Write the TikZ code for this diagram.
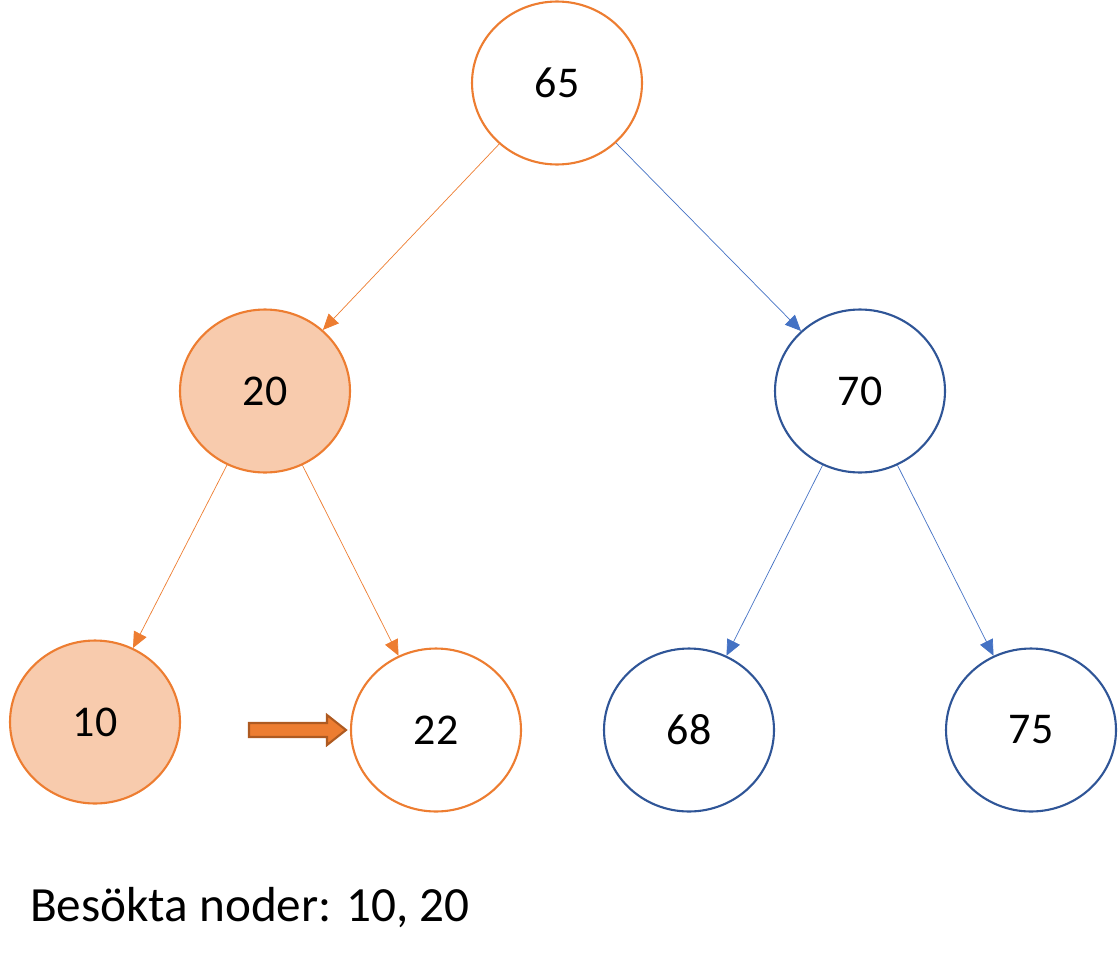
\documentclass[tikz,border=0pt]{standalone}
\usepackage{fontspec}
\setmainfont{Carlito}
\usetikzlibrary{shapes.geometric,arrows.meta}
\definecolor{treeorange}{HTML}{ED7D31}
\definecolor{treefill}{HTML}{F8CBAD}
\definecolor{treeblue}{HTML}{2F5597}
\definecolor{edgeblue}{HTML}{4472C4}
\definecolor{darkorange}{HTML}{AE5A21}
\tikzset{
  knot/.style={ellipse, minimum width=3.4cm, minimum height=3.26cm, line width=1.2pt, font=\fontsize{25}{30}\selectfont, inner sep=0pt},
  onode/.style={knot, draw=treeorange, fill=white},
  vnode/.style={knot, draw=treeorange, fill=treefill},
  bnode/.style={knot, draw=treeblue, fill=white},
  oedge/.style={draw=treeorange, -{Triangle[length=9pt,width=8pt]}},
  bedge/.style={draw=edgeblue, -{Triangle[length=9pt,width=8pt]}}
}
\begin{document}
\begin{tikzpicture}[x=0.02cm,y=-0.02cm]
    \useasboundingbox (0,0) rectangle (1118,960);
    %%nodes
    \node[onode] (n65) at (557,83) {65};
    \node[vnode] (n20) at (265,391) {20};
    \node[bnode] (n70) at (860,391) {70};
    \node[vnode] (n10) at (95,722) {10};
    \node[onode] (n22) at (436,730) {22};
    \node[bnode] (n68) at (689,730) {68};
    \node[bnode] (n75) at (1031,730) {75};
    %%edges
    \draw[oedge] (n65) -- (n20);
    \draw[bedge] (n65) -- (n70);
    \draw[oedge] (n20) -- (n10);
    \draw[oedge] (n20) -- (n22);
    \draw[bedge] (n70) -- (n68);
    \draw[bedge] (n70) -- (n75);
    %%block arrow
    \draw[draw=darkorange, fill=treeorange, line width=1.2pt]
    (249,723) -- (327,723) -- (327,715) -- (346,730) -- (327,745) -- (327,737) -- (249,737) -- cycle;
    %%visited
    \node[anchor=west, font=\fontsize{28}{34}\selectfont] (visited) at (24,908) {Besökta noder: 10, 20};
\end{tikzpicture}
\end{document}
